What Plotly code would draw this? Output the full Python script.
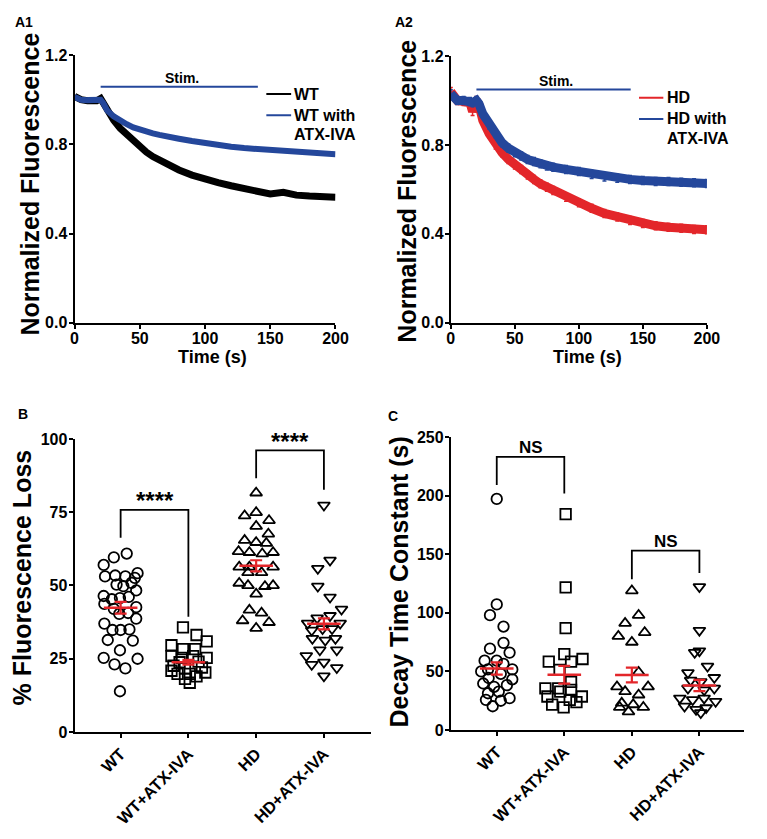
import plotly.graph_objects as go

# the page body adds an 8 px margin, so the figure is drawn smaller than the window
W, H = 749, 819
OFF = 8
FONT = "Liberation Sans, Arial, sans-serif"
BLUE = "#24479b"
RED = "#e3262a"

# ---- A: normalized fluorescence time courses ----
t = [0, 5, 10, 15, 17, 20, 22, 25, 30, 35, 40, 45, 50, 55, 60, 65, 70, 75, 80, 90,
     100, 110, 120, 130, 140, 150, 160, 170, 180, 190, 200]
wt = [1.015, 1.0, 0.995, 0.995, 0.995, 1.005, 0.985, 0.95, 0.908, 0.872, 0.843, 0.815, 0.79,
      0.765, 0.745, 0.728, 0.712, 0.698, 0.685, 0.662, 0.642, 0.628, 0.614, 0.601, 0.588,
      0.577, 0.585, 0.572, 0.568, 0.566, 0.563]
wt_atx = [1.012, 1.0, 0.998, 0.996, 0.996, 1.0, 0.985, 0.952, 0.925, 0.905, 0.89, 0.876, 0.865,
          0.857, 0.849, 0.842, 0.835, 0.83, 0.825, 0.815, 0.805, 0.797, 0.789, 0.783, 0.779,
          0.773, 0.769, 0.765, 0.761, 0.758, 0.755]
hd = [1.04, 1.0, 0.995, 0.99, 0.95, 1.0, 0.98, 0.91, 0.85, 0.8, 0.765, 0.735, 0.71, 0.69,
      0.665, 0.645, 0.625, 0.61, 0.595, 0.565, 0.54, 0.515, 0.492, 0.476, 0.46, 0.446, 0.436,
      0.43, 0.425, 0.42, 0.418]
hd_atx = [1.03, 1.0, 1.0, 0.995, 0.99, 1.0, 0.985, 0.94, 0.89, 0.85, 0.81, 0.785, 0.765, 0.75,
          0.735, 0.725, 0.715, 0.705, 0.7, 0.69, 0.68, 0.667, 0.656, 0.65, 0.645, 0.64, 0.636,
          0.635, 0.632, 0.63, 0.626]
hd_err = 0.018

groups = ["WT", "WT+ATX-IVA", "HD", "HD+ATX-IVA"]
symbols = ["circle-open", "square-open", "triangle-up-open", "triangle-down-open"]

# ---- B: % fluorescence loss (value, jitter offset) ----
loss_wt = [60.9, 59.6, 57.0, 54.2, 53.1, 53.4, 53.1, 52.6, 50.3, 49.8, 50.9, 48.3, 46.4, 45.3,
           45.7, 46.1, 43.7, 42.0, 42.6, 40.6, 40.3, 38.7, 37.0, 34.8, 34.8, 35.0, 31.4, 31.2,
           27.9, 25.3, 25.0, 23.1, 21.7, 13.9]
loss_wt_dx = [0.09, -0.10, -0.25, 0.25, -0.23, -0.08, 0.07, 0.21, -0.06, 0.04, 0.16, 0.23, -0.25,
              -0.13, -0.01, 0.12, -0.24, -0.10, 0.23, 0.11, -0.02, 0.23, -0.24, -0.12, 0.0, 0.13,
              -0.19, 0.18, -0.01, -0.25, 0.25, -0.09, 0.07, -0.01]
loss_wta = [35.7, 33.1, 30.9, 29.6, 28.3, 28.3, 25.9, 25.3, 25.9, 25.3, 22.6, 21.7, 19.8, 19.8,
            20.3, 19.0, 18.1, 16.8, 20.9, 22.0, 23.8, 24.0]
loss_wta_dx = [-0.08, 0.12, 0.27, -0.25, -0.08, 0.10, -0.25, -0.10, 0.07, 0.27, -0.22, -0.05,
               -0.16, 0.02, 0.25, 0.12, -0.05, 0.02, -0.25, 0.20, -0.13, 0.15]
loss_hd = [81.6, 73.8, 74.9, 72.2, 70.2, 67.6, 65.4, 64.7, 64.4, 61.6, 61.3, 60.8, 61.3, 56.3,
           56.3, 56.3, 54.4, 54.4, 50.8, 50.0, 47.1, 49.7, 50.0, 41.6, 40.6, 38.0, 37.4, 35.4]
loss_hd_dx = [0.0, -0.17, 0.0, 0.19, 0.0, 0.18, -0.17, 0.0, 0.15, -0.26, -0.10, 0.09, 0.25,
              -0.25, -0.10, 0.25, -0.12, 0.08, -0.25, -0.12, 0.0, 0.13, 0.25, -0.10, 0.08, -0.20,
              0.19, 0.0]
loss_hda = [77.4, 58.6, 55.8, 49.7, 46.0, 41.9, 37.1, 38.9, 39.7, 37.1, 34.7, 35.2, 35.2, 31.9,
            31.3, 31.9, 28.0, 28.0, 26.0, 23.0, 23.8, 21.9, 19.1]
loss_hda_dx = [0.0, 0.09, -0.09, -0.09, 0.09, 0.26, -0.24, -0.10, 0.09, 0.24, -0.18, -0.02,
               0.12, -0.17, 0.02, 0.17, -0.06, 0.19, -0.26, -0.18, 0.0, 0.19, 0.0]
loss_mean = [42.4, 23.8, 56.7, 36.9]
loss_sem = [2.0, 0.8, 1.9, 1.9]

# ---- C: decay time constant ----
tau_wt = [197.2, 107.2, 98.0, 88.3, 74.4, 69.4, 66.1, 59.2, 59.2, 51.7, 56.4, 51.7, 50.0, 44.4,
          48.0, 43.3, 39.7, 36.9, 38.3, 31.4, 32.8, 27.2, 25.8, 25.0, 20.3]
tau_wt_dx = [0.0, 0.0, -0.1, 0.1, 0.1, -0.1, 0.19, -0.18, 0.0, -0.13, 0.1, 0.23, -0.23, -0.12,
             0.06, 0.23, -0.2, -0.04, 0.15, -0.13, 0.03, 0.19, -0.16, 0.06, -0.06]
tau_wta = [184.2, 121.7, 86.9, 64.7, 58.3, 58.3, 60.6, 51.4, 41.1, 28.6, 32.8, 25.8, 28.6, 21.7,
           19.4, 23.9, 35.6, 34.2, 35.6]
tau_wta_dx = [0.02, 0.02, 0.02, 0.0, -0.23, 0.1, 0.27, -0.07, 0.1, -0.25, -0.06, 0.08, 0.26,
              -0.18, -0.01, 0.18, -0.09, 0.1, -0.28]
tau_hd = [118.9, 98.0, 91.1, 83.3, 80.0, 75.0, 49.4, 36.9, 36.9, 32.8, 30.0, 23.0, 21.7, 19.4,
          15.6, 19.4]
tau_hd_dx = [0.0, 0.1, -0.1, 0.19, -0.2, 0.0, 0.1, -0.22, 0.24, -0.1, 0.1, -0.15, 0.02, 0.17,
             -0.05, -0.18]
tau_hda = [122.2, 85.0, 66.1, 67.5, 54.4, 44.7, 48.9, 42.5, 41.1, 35.6, 35.6, 34.2, 27.2, 25.8,
           27.2, 24.4, 20.3, 17.5, 18.9, 14.7]
tau_hda_dx = [0.0, 0.0, -0.07, 0.0, 0.12, 0.22, -0.17, -0.13, 0.02, 0.22, -0.17, 0.07, -0.29,
              -0.1, 0.07, 0.24, -0.22, -0.05, 0.1, 0.02]
tau_mean = [52.5, 47.2, 47.0, 38.0]
tau_sem = [5.2, 7.6, 6.3, 4.8]

# significance brackets: (left idx, right idx, top, left foot, right foot, label)
loss_brackets = [(0, 1, 75.8, 66.3, 39.3, "****"), (2, 3, 96.1, 86.6, 82.7, "****")]
tau_brackets = [(0, 1, 233, 209, 201.7, "NS"), (2, 3, 153, 128.6, 134, "NS")]


def px_x(p):
    return min(1.0, max(0.0, (p - OFF) / W))


def px_y(p):
    return min(1.0, max(0.0, 1 - (p - OFF) / H))


fig = go.Figure()

# time courses
for xa, ya, series, err in [("x", "y", [(wt, "black", 7), (wt_atx, BLUE, 6)], None),
                            ("x2", "y2", [(hd, RED, 9), (hd_atx, BLUE, 9)], hd_err)]:
    for vals, col, lw in series:
        fig.add_trace(go.Scatter(x=t, y=vals, mode="lines", line=dict(color=col, width=lw),
                                 error_y=dict(type="constant", value=err or 0, color=col,
                                              thickness=1.5, width=2, visible=err is not None),
                                 xaxis=xa, yaxis=ya, showlegend=False, cliponaxis=False))


def dot_panel(xa, ya, vals, dxs, means, sems, brackets):
    for i in range(4):
        fig.add_trace(go.Scatter(x=[i + d for d in dxs[i]], y=vals[i], mode="markers",
                                 marker=dict(symbol=symbols[i], size=10.5, color="black",
                                             line=dict(width=1.8, color="black")),
                                 xaxis=xa, yaxis=ya, showlegend=False))
    fig.add_trace(go.Scatter(x=list(range(4)), y=means, mode="markers",
                             marker=dict(symbol="line-ew-open", size=24, color=RED,
                                         line=dict(width=2.5, color=RED)),
                             error_y=dict(type="data", array=sems, color=RED, thickness=2.2,
                                          width=6),
                             xaxis=xa, yaxis=ya, showlegend=False))
    for a, b, top, fa, fb, txt in brackets:
        fig.add_trace(go.Scatter(x=[a, a, b, b], y=[fa, top, top, fb], mode="lines",
                                 line=dict(color="black", width=1.8),
                                 xaxis=xa, yaxis=ya, showlegend=False))
        star = txt.startswith("*")
        fig.add_annotation(x=(a + b) / 2, y=top, xref=xa, yref=ya, text=txt,
                           showarrow=False, yanchor="middle", yshift=9,
                           font=dict(size=24 if star else 17, family=FONT, color="black",
                                     weight="bold"))


dot_panel("x3", "y3", [loss_wt, loss_wta, loss_hd, loss_hda],
          [loss_wt_dx, loss_wta_dx, loss_hd_dx, loss_hda_dx], loss_mean, loss_sem,
          loss_brackets)
dot_panel("x4", "y4", [tau_wt, tau_wta, tau_hd, tau_hda],
          [tau_wt_dx, tau_wta_dx, tau_hd_dx, tau_hda_dx], tau_mean, tau_sem,
          tau_brackets)

axis_style = dict(showline=True, linewidth=2, linecolor="black", ticks="outside", ticklen=4,
                  tickwidth=2, tickcolor="black", showgrid=False, zeroline=False,
                  ticklabelstandoff=-2,
                  tickfont=dict(size=16, family=FONT, color="black", weight="bold"))
time_style = dict(axis_style, ticklabelstandoff=-4)
cat_style = dict(axis_style, ticklabelstandoff=0,
                 tickfont=dict(size=16.5, family=FONT, color="black", weight="bold"))

fig.update_layout(
    width=W, height=H, margin=dict(l=0, r=0, t=0, b=0),
    paper_bgcolor="white", plot_bgcolor="white",
    xaxis=dict(domain=[px_x(72), px_x(339)], anchor="y", range=[0, 200],
               tickvals=[0, 50, 100, 150, 200], **time_style),
    yaxis=dict(domain=[px_y(322), px_y(48)], anchor="x", range=[0, 1.2],
               tickvals=[0, 0.4, 0.8, 1.2], ticktext=["0.0", "0.4", "0.8", "1.2"], **axis_style),
    xaxis2=dict(domain=[px_x(457), px_x(719)], anchor="y2", range=[0, 200],
                tickvals=[0, 50, 100, 150, 200], **time_style),
    yaxis2=dict(domain=[px_y(322), px_y(49)], anchor="x2", range=[0, 1.2],
                tickvals=[0, 0.4, 0.8, 1.2], ticktext=["0.0", "0.4", "0.8", "1.2"], **axis_style),
    xaxis3=dict(domain=[px_x(72), px_x(375)], anchor="y3", range=[-0.68, 3.69],
                tickvals=[0, 1, 2, 3], ticktext=groups, tickangle=-45, **cat_style),
    yaxis3=dict(domain=[px_y(741), px_y(441)], anchor="x3", range=[0, 100],
                tickvals=[0, 25, 50, 75, 100], **axis_style),
    xaxis4=dict(domain=[px_x(457), px_x(757)], anchor="y4", range=[-0.68, 3.66],
                tickvals=[0, 1, 2, 3], ticktext=groups, tickangle=-45, **cat_style),
    yaxis4=dict(domain=[px_y(739), px_y(439)], anchor="x4", range=[0, 250],
                tickvals=[0, 50, 100, 150, 200, 250], **axis_style),
)


def note(text, x, y, size, angle=0, xanchor="center"):
    fig.add_annotation(x=px_x(x), y=px_y(y), xref="paper", yref="paper", text=text,
                       showarrow=False, textangle=angle, xanchor=xanchor, yanchor="middle",
                       font=dict(size=size, family=FONT, color="black", weight="bold"))


# panel letters and axis titles
note("A1", 20, 14, 14)
note("A2", 409, 14, 14)
note("B", 19, 415, 14)
note("C", 398, 418, 14)
note("Normalized Fluorescence", 26, 180, 25, -90)
note("Normalized Fluorescence", 412, 187, 25, -90)
note("% Fluorescence Loss", 18, 583, 25, -90)
note("Decay Time Constant (s)", 404, 588, 25, -90)
note("Time (s)", 213, 357, 18)
note("Time (s)", 597, 357, 18)

# stimulus bars and inline legends
for xa, ya, y_bar, y_txt, entries in [
        ("x", "y", 1.058, 1.098, [("WT", "black", 1.025), ("WT with", BLUE, 0.93),
                                  ("ATX-IVA", None, 0.842)]),
        ("x2", "y2", 1.049, 1.088, [("HD", RED, 1.012), ("HD with", BLUE, 0.917),
                                    ("ATX-IVA", None, 0.829)])]:
    fig.add_shape(type="line", xref=xa, yref=ya, x0=20, x1=140.5, y0=y_bar, y1=y_bar,
                  line=dict(color=BLUE, width=2))
    fig.add_annotation(x=82, y=y_txt, xref=xa, yref=ya, text="Stim.", showarrow=False,
                       font=dict(size=14, family=FONT, color="black", weight="bold"))
    for txt, col, yy in entries:
        if col:
            fig.add_shape(type="line", xref=xa, yref=ya, x0=147, x1=166, y0=yy, y1=yy,
                          line=dict(color=col, width=2))
        fig.add_annotation(x=167, y=yy, xref=xa, yref=ya, text=txt, showarrow=False,
                           xanchor="left",
                           font=dict(size=16, family=FONT, color="black", weight="bold"))

fig.write_html("out.html")
